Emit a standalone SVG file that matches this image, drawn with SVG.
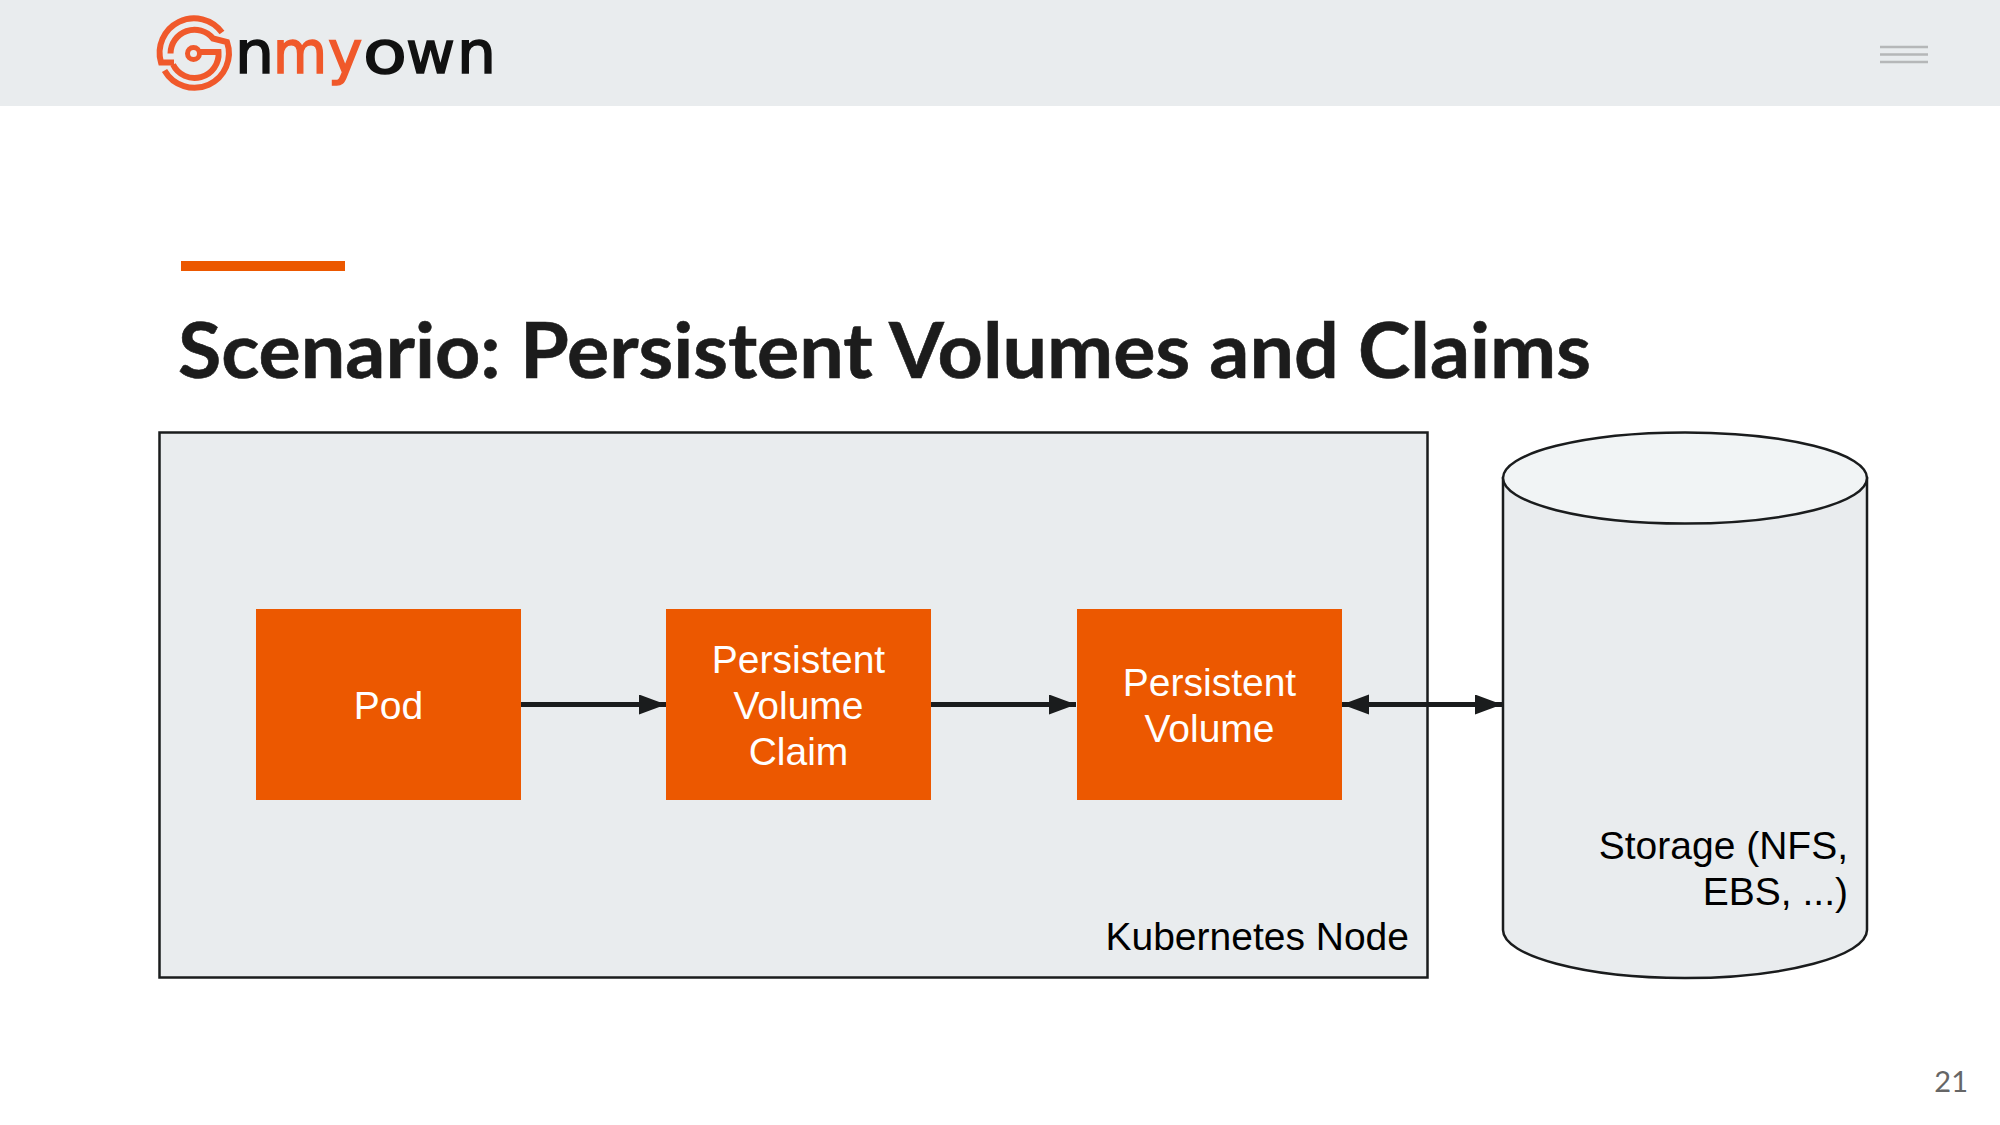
<svg xmlns="http://www.w3.org/2000/svg" width="2000" height="1125" viewBox="0 0 2000 1125">
<style>
.box{fill:#ec5800}
.lbl{font-family:"Liberation Sans",Arial,sans-serif;font-size:39px;fill:#fff;text-anchor:middle}
.blk{font-family:"Liberation Sans",Arial,sans-serif;font-size:39px;fill:#000;text-anchor:end}
.edge{stroke:#1a1c1d;stroke-width:5;fill:none}
.logo{fill:none;stroke:#f0592b;stroke-width:6}
.w{font-family:"DejaVu Sans",sans-serif;font-size:58px;stroke-width:1.6px}
.d{fill:#111;stroke:#111}
.o{fill:#f0592b;stroke:#f0592b}
</style>
<defs>
<marker id="a" markerUnits="userSpaceOnUse" markerWidth="30" markerHeight="22" refX="27" refY="10" orient="auto-start-reverse"><path d="M0 0L27 10L0 20Z" fill="#1a1c1d"/></marker>
</defs>
<rect width="2000" height="1125" fill="#fff"/>
<g id="header">
<rect width="2000" height="106" fill="#e9ecee"/>
<g id="logo-mark" class="logo">
<path d="M222 32.500A34.500 34.500 0 0 0 161 62.500H174"/>
<path d="M170.500 53.500A24 24 0 0 1 213 38.500L227 42A34.500 34.500 0 0 1 164.500 70.500"/>
<path d="M199 52H218.500A24 24 0 0 1 173 64.500"/>
<circle cx="193.500" cy="53.500" r="6" stroke-width="5"/>
</g>
<g id="logo-word">
<text class="w d" x="235" y="73" textLength="39" lengthAdjust="spacingAndGlyphs">n</text>
<text class="w o" x="273" y="73" textLength="54" lengthAdjust="spacingAndGlyphs">m</text>
<text class="w o" x="328" y="73">y</text>
<text class="w d" x="363" y="73" textLength="44" lengthAdjust="spacingAndGlyphs">o</text>
<text class="w d" x="406" y="73" textLength="49" lengthAdjust="spacingAndGlyphs">w</text>
<text class="w d" x="457" y="73" textLength="39" lengthAdjust="spacingAndGlyphs">n</text>
</g>
<path d="M1880 47h48M1880 54.500h48M1880 62h48" stroke="#b5b7b8" stroke-width="2.500"/>
</g>
<rect x="181" y="261" width="164" height="10" fill="#ec5800"/>
<text x="178" y="378" font-family="Lato,'Open Sans',sans-serif" font-weight="700" font-size="76" fill="#1c1c1c" stroke="#1c1c1c" stroke-width=".6" textLength="1413" lengthAdjust="spacingAndGlyphs">Scenario: Persistent Volumes and Claims</text>
<g id="k8s-node">
<rect x="159.500" y="432.500" width="1268" height="545" fill="#e9ecee" stroke="#1a1c1d" stroke-width="2.500"/>
<text class="blk" x="1409" y="950">Kubernetes Node</text>
</g>
<g id="storage">
<path d="M1503 478V930C1503 956 1585 978 1685 978S1867 956 1867 930V478Z" fill="#e9ecee" stroke="#1a1c1d" stroke-width="2.500"/>
<ellipse cx="1685" cy="478" rx="182" ry="45.500" fill="#f1f4f5" stroke="#1a1c1d" stroke-width="2.500"/>
<text class="blk" x="1848" y="859">Storage (NFS,</text>
<text class="blk" x="1848" y="905">EBS, ...)</text>
</g>
<g id="pod"><rect class="box" x="256" y="609" width="265" height="191"/><text class="lbl" x="388.500" y="719">Pod</text></g>
<g id="pvc"><rect class="box" x="666" y="609" width="265" height="191"/><text class="lbl" x="798.500" y="673">Persistent</text><text class="lbl" x="798.500" y="719">Volume</text><text class="lbl" x="798.500" y="765">Claim</text></g>
<g id="pv"><rect class="box" x="1077" y="609" width="265" height="191"/><text class="lbl" x="1209.500" y="696">Persistent</text><text class="lbl" x="1209.500" y="742">Volume</text></g>
<g id="connectors">
<path class="edge" d="M521 704.500H666" marker-end="url(#a)"/>
<path class="edge" d="M931 704.500H1076" marker-end="url(#a)"/>
<path class="edge" d="M1342 704.500H1502" marker-start="url(#a)" marker-end="url(#a)"/>
</g>
<text x="1968" y="1092" text-anchor="end" font-family="Lato,sans-serif" font-size="29" fill="#666">21</text>
</svg>
